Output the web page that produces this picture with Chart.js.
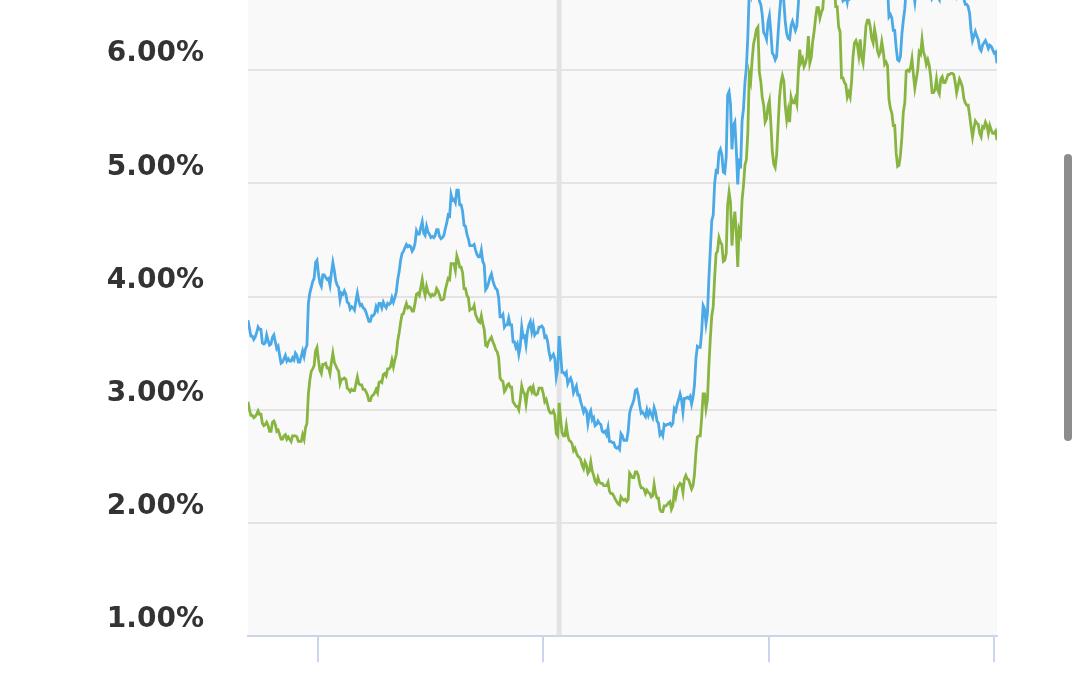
<!DOCTYPE html>
<html>
<head>
<meta charset="utf-8">
<script src="https://cdn.jsdelivr.net/npm/chart.js@4.4.1/dist/chart.umd.min.js"></script>
<style>
  html, body { margin: 0; padding: 0; background: #fff; width: 1080px; height: 675px; overflow: hidden; }
  #wrap { position: absolute; left: 0; top: -104px; width: 1080px; height: 801px; }
  #scrollbar { position: absolute; left: 1064px; top: 154px; width: 8px; height: 287px; border-radius: 4px; background: #8d8d8d; }
</style>
</head>
<body>
<div id="wrap"><canvas id="chart-rates" width="1080" height="801"></canvas></div>
<div id="scrollbar"></div>
<script>
// Weekly survey, first week and hovered week
const firstWeek = '2016-01-28';
const hoverWeek = '2020-03-19';

// x axis tick marks (years)
const tickYears = [2017, 2020, 2023, 2026];

// y axis range (%)
const yMin = 1;
const yMax = 7;

// 30-year fixed rate, one line per year (2016 starts Jan 28)
const rate30 = [
  3.79, 3.72, 3.65, 3.65, 3.62, 3.64, 3.68, 3.73, 3.71, 3.71, 3.59, 3.58, 3.59, 3.66, 3.61, 3.57, 3.58, 3.64, 3.66, 3.60, 3.54, 3.56, 3.48, 3.41, 3.42, 3.45, 3.48, 3.43, 3.45, 3.43, 3.43, 3.46, 3.44, 3.50, 3.48, 3.42, 3.42, 3.47, 3.52, 3.47, 3.54, 3.57, 3.94, 4.03, 4.08, 4.13, 4.16, 4.30, 4.32,
  4.20, 4.12, 4.09, 4.19, 4.19, 4.17, 4.15, 4.16, 4.10, 4.21, 4.30, 4.23, 4.14, 4.10, 4.08, 3.97, 4.03, 4.02, 4.05, 4.02, 3.95, 3.94, 3.89, 3.91, 3.90, 3.88, 3.96, 4.03, 3.96, 3.92, 3.93, 3.90, 3.89, 3.86, 3.82, 3.78, 3.78, 3.83, 3.83, 3.85, 3.91, 3.88, 3.94, 3.94, 3.90, 3.95, 3.92, 3.90, 3.94, 3.93, 3.94, 3.99,
  3.95, 3.99, 4.04, 4.15, 4.22, 4.32, 4.38, 4.40, 4.43, 4.46, 4.44, 4.45, 4.44, 4.40, 4.42, 4.47, 4.58, 4.55, 4.55, 4.61, 4.66, 4.56, 4.54, 4.62, 4.57, 4.55, 4.52, 4.53, 4.52, 4.54, 4.59, 4.59, 4.53, 4.51, 4.52, 4.54, 4.60, 4.65, 4.72, 4.71, 4.90, 4.85, 4.86, 4.83, 4.94, 4.94, 4.81, 4.81, 4.75, 4.63, 4.62, 4.55,
  4.51, 4.45, 4.45, 4.45, 4.46, 4.41, 4.37, 4.35, 4.35, 4.41, 4.31, 4.28, 4.06, 4.08, 4.12, 4.17, 4.20, 4.14, 4.10, 4.07, 4.06, 3.99, 3.82, 3.82, 3.84, 3.73, 3.75, 3.75, 3.81, 3.75, 3.75, 3.60, 3.60, 3.55, 3.58, 3.49, 3.56, 3.73, 3.64, 3.65, 3.57, 3.69, 3.75, 3.78, 3.69, 3.75, 3.66, 3.68, 3.68, 3.73, 3.73, 3.74,
  3.72, 3.64, 3.65, 3.60, 3.51, 3.45, 3.47, 3.49, 3.45, 3.29, 3.36, 3.65, 3.50, 3.33, 3.33, 3.31, 3.33, 3.23, 3.26, 3.28, 3.24, 3.15, 3.18, 3.21, 3.13, 3.13, 3.07, 3.03, 2.98, 3.01, 2.99, 2.88, 2.96, 2.99, 2.91, 2.93, 2.86, 2.87, 2.90, 2.88, 2.87, 2.81, 2.80, 2.81, 2.78, 2.84, 2.72, 2.72, 2.71, 2.71, 2.67, 2.66, 2.67,
  2.65, 2.79, 2.77, 2.73, 2.73, 2.73, 2.81, 2.97, 3.02, 3.05, 3.09, 3.17, 3.18, 3.13, 3.04, 2.97, 2.98, 2.96, 2.94, 3.00, 2.95, 2.99, 2.96, 2.93, 3.02, 2.98, 2.90, 2.88, 2.78, 2.80, 2.77, 2.87, 2.86, 2.87, 2.87, 2.88, 2.86, 2.88, 3.01, 2.99, 3.05, 3.09, 3.14, 3.09, 2.98, 3.10, 3.10, 3.11, 3.10, 3.12, 3.05, 3.11,
  3.22, 3.45, 3.56, 3.55, 3.55, 3.69, 3.92, 3.89, 3.76, 3.85, 4.16, 4.42, 4.67, 4.72, 5.00, 5.11, 5.10, 5.27, 5.30, 5.25, 5.10, 5.09, 5.23, 5.78, 5.81, 5.70, 5.30, 5.51, 5.54, 5.30, 4.99, 5.22, 5.13, 5.55, 5.66, 5.89, 6.02, 6.29, 6.70, 6.66, 6.92, 6.94, 7.08, 6.95, 7.08, 6.61, 6.58, 6.49, 6.33, 6.31, 6.27, 6.42,
  6.48, 6.33, 6.15, 6.13, 6.09, 6.12, 6.32, 6.50, 6.65, 6.73, 6.60, 6.42, 6.32, 6.28, 6.27, 6.39, 6.43, 6.39, 6.35, 6.39, 6.57, 6.79, 6.71, 6.69, 6.67, 6.71, 6.81, 6.96, 6.78, 6.81, 6.90, 6.96, 7.09, 7.23, 7.18, 7.12, 7.18, 7.19, 7.31, 7.49, 7.57, 7.63, 7.79, 7.76, 7.50, 7.44, 7.29, 7.22, 7.03, 6.95, 6.67, 6.61,
  6.62, 6.66, 6.60, 6.69, 6.63, 6.64, 6.77, 6.90, 6.94, 6.88, 6.74, 6.87, 6.79, 6.82, 6.88, 7.10, 7.17, 7.22, 7.09, 7.02, 6.94, 7.03, 6.99, 6.95, 6.87, 6.86, 6.95, 6.89, 6.77, 6.78, 6.73, 6.47, 6.49, 6.46, 6.35, 6.35, 6.20, 6.09, 6.08, 6.12, 6.32, 6.44, 6.54, 6.72, 6.79, 6.78, 6.84, 6.81, 6.69, 6.60, 6.72, 6.85,
  6.91, 6.93, 7.04, 6.96, 6.95, 6.89, 6.87, 6.85, 6.76, 6.63, 6.65, 6.67, 6.65, 6.64, 6.62, 6.83, 6.81, 6.76, 6.76, 6.81, 6.86, 6.89, 6.85, 6.84, 6.81, 6.77, 6.67, 6.72, 6.75, 6.74, 6.72, 6.63, 6.58, 6.58, 6.56, 6.50, 6.35, 6.26, 6.30, 6.34, 6.30, 6.27, 6.19, 6.17, 6.22, 6.24, 6.26, 6.23, 6.19, 6.22, 6.21, 6.18,
  6.15, 6.16, 6.06
];

// 15-year fixed rate, same weeks
const rate15 = [
  3.07, 3.00, 2.95, 2.95, 2.93, 2.94, 2.96, 2.99, 2.96, 2.96, 2.88, 2.86, 2.87, 2.89, 2.86, 2.81, 2.81, 2.89, 2.90, 2.87, 2.81, 2.82, 2.78, 2.74, 2.74, 2.77, 2.78, 2.74, 2.76, 2.74, 2.72, 2.77, 2.77, 2.77, 2.76, 2.72, 2.72, 2.72, 2.78, 2.74, 2.84, 2.88, 3.14, 3.26, 3.34, 3.36, 3.39, 3.52, 3.55,
  3.44, 3.35, 3.32, 3.40, 3.40, 3.41, 3.37, 3.37, 3.32, 3.42, 3.50, 3.42, 3.39, 3.36, 3.34, 3.23, 3.27, 3.27, 3.28, 3.27, 3.19, 3.18, 3.16, 3.18, 3.17, 3.17, 3.23, 3.29, 3.23, 3.22, 3.22, 3.18, 3.18, 3.16, 3.13, 3.08, 3.08, 3.12, 3.13, 3.15, 3.18, 3.15, 3.24, 3.25, 3.24, 3.31, 3.32, 3.30, 3.36, 3.36, 3.38, 3.44,
  3.38, 3.44, 3.49, 3.61, 3.68, 3.77, 3.84, 3.85, 3.90, 3.94, 3.90, 3.91, 3.90, 3.87, 3.87, 3.94, 4.02, 4.03, 4.01, 4.08, 4.15, 4.06, 4.01, 4.09, 4.04, 4.02, 4.00, 4.02, 4.01, 4.02, 4.07, 4.05, 4.01, 3.97, 3.97, 3.98, 4.06, 4.11, 4.16, 4.15, 4.29, 4.29, 4.29, 4.23, 4.36, 4.32, 4.26, 4.26, 4.21, 4.07, 4.07, 4.01,
  3.99, 3.88, 3.89, 3.89, 3.92, 3.84, 3.81, 3.78, 3.77, 3.83, 3.76, 3.71, 3.57, 3.56, 3.60, 3.62, 3.64, 3.60, 3.57, 3.53, 3.51, 3.46, 3.28, 3.26, 3.25, 3.16, 3.18, 3.22, 3.23, 3.20, 3.20, 3.07, 3.05, 3.03, 3.03, 3.00, 3.09, 3.21, 3.16, 3.14, 3.05, 3.15, 3.19, 3.20, 3.16, 3.20, 3.14, 3.13, 3.14, 3.19, 3.19, 3.19,
  3.14, 3.07, 3.09, 3.04, 2.99, 2.97, 2.97, 2.99, 2.95, 2.79, 2.77, 3.06, 2.92, 2.80, 2.77, 2.77, 2.86, 2.77, 2.73, 2.72, 2.70, 2.64, 2.66, 2.62, 2.59, 2.58, 2.56, 2.51, 2.48, 2.54, 2.51, 2.44, 2.46, 2.54, 2.46, 2.42, 2.37, 2.35, 2.40, 2.36, 2.35, 2.35, 2.33, 2.33, 2.33, 2.36, 2.28, 2.26, 2.26, 2.24, 2.21, 2.19, 2.17,
  2.16, 2.23, 2.21, 2.20, 2.21, 2.19, 2.21, 2.44, 2.42, 2.40, 2.40, 2.45, 2.45, 2.42, 2.35, 2.31, 2.31, 2.30, 2.26, 2.29, 2.27, 2.26, 2.23, 2.24, 2.34, 2.26, 2.22, 2.22, 2.12, 2.10, 2.10, 2.15, 2.15, 2.16, 2.18, 2.19, 2.12, 2.15, 2.28, 2.23, 2.30, 2.33, 2.35, 2.34, 2.27, 2.39, 2.42, 2.39, 2.38, 2.34, 2.30, 2.33,
  2.43, 2.62, 2.76, 2.77, 2.77, 2.93, 3.14, 3.14, 3.01, 3.09, 3.39, 3.63, 3.83, 3.91, 4.17, 4.38, 4.40, 4.52, 4.48, 4.46, 4.31, 4.32, 4.38, 4.81, 4.92, 4.83, 4.45, 4.63, 4.75, 4.58, 4.26, 4.59, 4.55, 4.85, 4.98, 5.16, 5.21, 5.44, 5.96, 5.90, 6.09, 6.23, 6.29, 6.36, 6.38, 5.98, 5.90, 5.76, 5.69, 5.54, 5.57, 5.68,
  5.73, 5.52, 5.28, 5.17, 5.14, 5.25, 5.51, 5.76, 5.89, 5.95, 5.90, 5.68, 5.56, 5.64, 5.54, 5.76, 5.71, 5.71, 5.75, 5.70, 5.97, 6.18, 6.07, 6.10, 6.03, 6.06, 6.12, 6.30, 6.06, 6.11, 6.25, 6.34, 6.46, 6.55, 6.55, 6.46, 6.51, 6.54, 6.72, 6.72, 6.89, 6.92, 7.03, 6.95, 6.81, 6.76, 6.56, 6.56, 6.38, 6.34, 5.93, 5.93,
  5.89, 5.87, 5.76, 5.80, 5.76, 5.90, 6.12, 6.24, 6.26, 6.22, 6.13, 6.27, 6.11, 6.06, 6.21, 6.39, 6.44, 6.44, 6.38, 6.28, 6.24, 6.36, 6.29, 6.17, 6.13, 6.16, 6.25, 6.17, 6.05, 6.07, 6.04, 5.74, 5.66, 5.62, 5.51, 5.51, 5.27, 5.15, 5.16, 5.25, 5.41, 5.63, 5.71, 5.99, 6.00, 5.99, 6.02, 6.10, 5.96, 5.84, 5.92, 6.00,
  6.16, 6.14, 6.27, 6.16, 6.12, 6.05, 6.09, 6.04, 5.94, 5.80, 5.80, 5.83, 5.92, 5.82, 5.79, 5.92, 5.94, 5.89, 5.89, 5.92, 5.96, 5.96, 5.97, 5.97, 5.96, 5.89, 5.80, 5.86, 5.92, 5.89, 5.85, 5.75, 5.71, 5.69, 5.69, 5.60, 5.50, 5.41, 5.49, 5.55, 5.53, 5.52, 5.44, 5.41, 5.50, 5.49, 5.54, 5.51, 5.44, 5.51, 5.47, 5.44,
  5.44, 5.46, 5.38
];

// date -> fractional year, so the x axis is a plain linear scale
function toYear(d) {
  const y = d.getUTCFullYear();
  const start = Date.UTC(y, 0, 1);
  const end = Date.UTC(y + 1, 0, 1);
  return y + (d.getTime() - start) / (end - start);
}

const weekYears = [];
const startMs = Date.parse(firstWeek + 'T00:00:00Z');
for (let i = 0; i < rate30.length; i++) {
  weekYears.push(toYear(new Date(startMs + i * 7 * 86400000)));
}
const hoverYear = toYear(new Date(hoverWeek + 'T00:00:00Z'));

// plot background + hover crosshair
const plotDecor = {
  id: 'plotDecor',
  beforeDraw(chart) {
    const { ctx, chartArea } = chart;
    ctx.save();
    ctx.fillStyle = '#f9f9f9';
    ctx.fillRect(chartArea.left, chartArea.top, chartArea.right - chartArea.left, chartArea.bottom - chartArea.top);
    ctx.restore();
  },
  beforeDatasetsDraw(chart) {
    const { ctx, chartArea } = chart;
    const x = chart.scales.x.getPixelForValue(hoverYear);
    ctx.save();
    ctx.fillStyle = '#e3e3e3';
    ctx.fillRect(x - 2.5, chartArea.top, 5, chartArea.bottom - chartArea.top - 1);
    ctx.restore();
  }
};

new Chart(document.getElementById('chart-rates'), {
  type: 'line',
  data: {
    datasets: [
      {
        label: '30-Year Fixed',
        data: weekYears.map((x, i) => ({ x: x, y: rate30[i] })),
        borderColor: '#4ba9e6',
        borderWidth: 2.8,
        pointRadius: 0,
        tension: 0
      },
      {
        label: '15-Year Fixed',
        data: weekYears.map((x, i) => ({ x: x, y: rate15[i] })),
        borderColor: '#88b541',
        borderWidth: 2.8,
        pointRadius: 0,
        tension: 0
      }
    ]
  },
  options: {
    responsive: false,
    animation: false,
    events: [],
    layout: { padding: { top: 0, right: 83, bottom: 0, left: 0 } },
    plugins: {
      legend: { display: false },
      tooltip: { enabled: false }
    },
    scales: {
      x: {
        type: 'linear',
        min: weekYears[0],
        max: weekYears[weekYears.length - 1],
        afterBuildTicks: (scale) => { scale.ticks = tickYears.map(v => ({ value: v })); },
        afterFit: (scale) => { scale.height = 26; },
        ticks: { display: false },
        grid: { drawOnChartArea: false, drawTicks: true, tickLength: 26, color: '#ccd6eb', lineWidth: 2 },
        border: { display: true, color: '#ccd6eb', width: 2 }
      },
      y: {
        min: yMin,
        max: yMax,
        afterFit: (scale) => { scale.width = 248; },
        ticks: {
          stepSize: 1,
          padding: 44,
          labelOffset: -16,
          color: '#333333',
          font: { family: 'DejaVu Sans', weight: 'bold', size: 28 },
          callback: (v) => v.toFixed(2) + '%'
        },
        grid: {
          drawTicks: false,
          lineWidth: 2,
          color: (c) => (c.tick && c.tick.value === yMin) ? 'rgba(0,0,0,0)' : '#e4e4e4'
        },
        border: { display: false }
      }
    }
  },
  plugins: [plotDecor]
});
</script>
</body>
</html>
